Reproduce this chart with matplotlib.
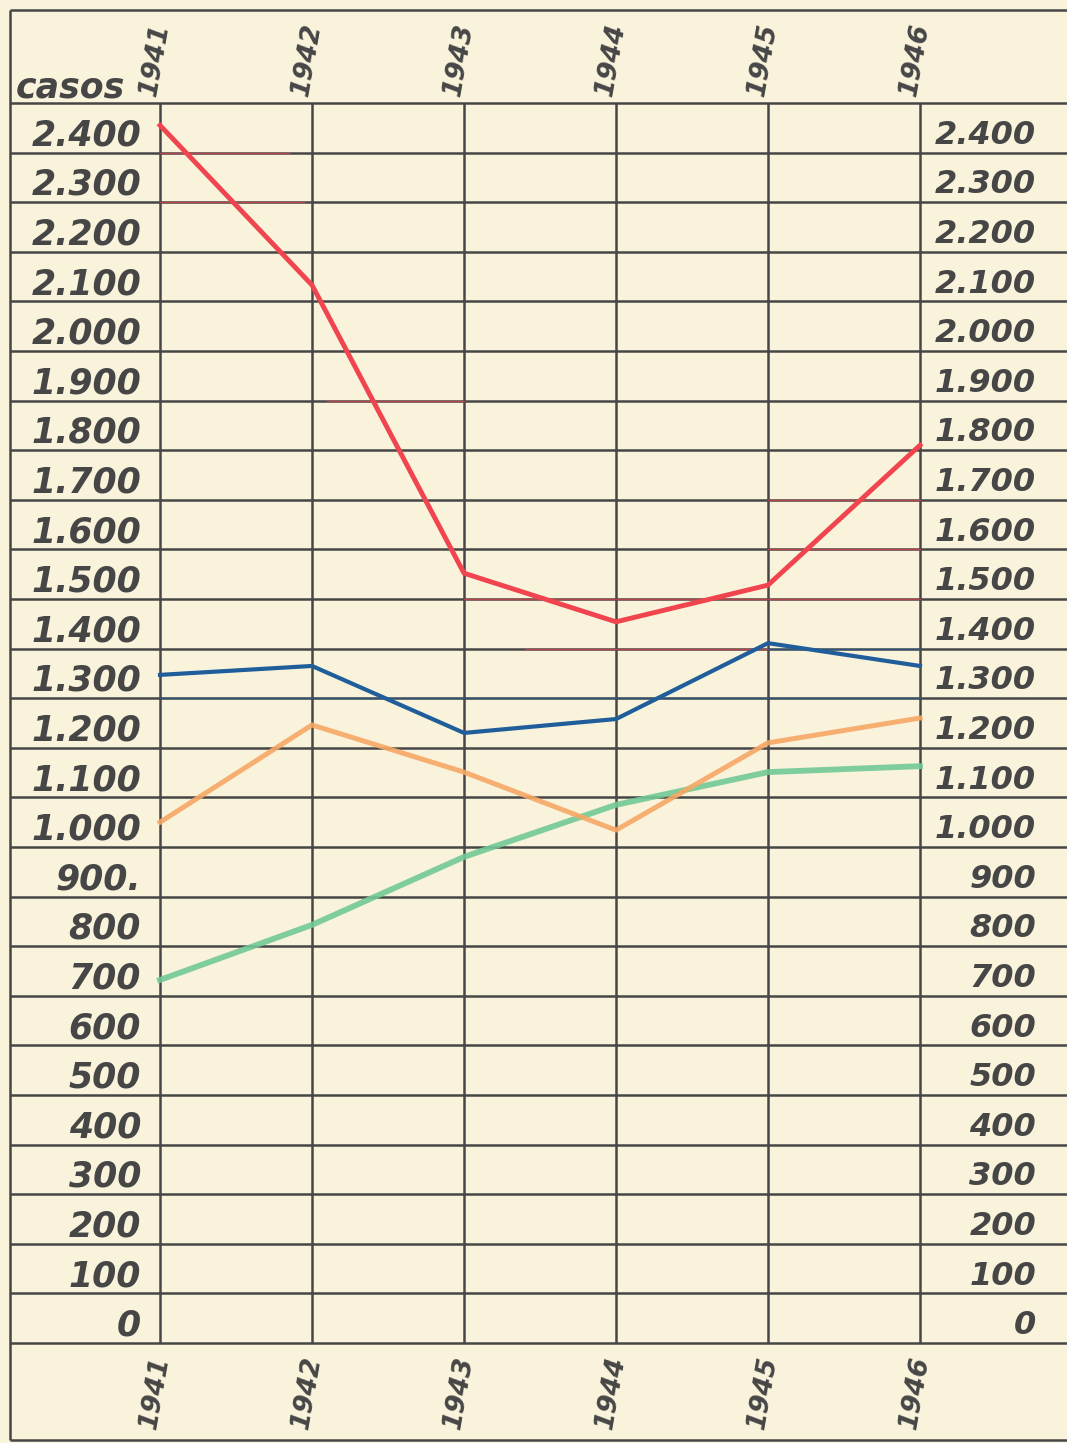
import matplotlib.pyplot as plt

# --- data ---
years = [1941, 1942, 1943, 1944, 1945, 1946]
red_vals = [2405, 2083, 1502, 1404, 1478, 1760]
blue_vals = [1297, 1315, 1180, 1208, 1361, 1315]
orange_vals = [1000, 1196, 1101, 984, 1160, 1210]
green_vals = [682, 793, 930, 1035, 1101, 1113]

tick_vals = list(range(0, 2500, 100))
left_labels = ["0", "100", "200", "300", "400", "500", "600", "700", "800", "900.",
               "1.000", "1.100", "1.200", "1.300", "1.400", "1.500", "1.600", "1.700",
               "1.800", "1.900", "2.000", "2.100", "2.200", "2.300", "2.400"]
right_labels = ["0", "100", "200", "300", "400", "500", "600", "700", "800", "900",
                "1.000", "1.100", "1.200", "1.300", "1.400", "1.500", "1.600", "1.700",
                "1.800", "1.900", "2.000", "2.100", "2.200", "2.300", "2.400"]

# coloured pencil traces left on some grid lines: (level, from year, to year, colour)
trace_levels = [2350, 2250, 1850, 1650, 1550, 1450, 1350, 1350, 1250]
trace_from = [1941.0, 1941.0, 1942.1, 1945.0, 1945.0, 1943.0, 1943.4, 1945.0, 1941.0]
trace_to = [1941.85, 1941.95, 1943.0, 1946.0, 1946.0, 1946.0, 1945.0, 1946.0, 1946.0]
trace_col = ["red", "red", "red", "red", "red", "red", "red", "blue", "blue"]

# --- style ---
bg = "#faf3dc"
ink = "#464646"
col = {"red": "#f0444e", "blue": "#1f5e9a", "orange": "#f6a865", "green": "#72c996"}
hand = dict(family="DejaVu Sans", fontstyle="italic", fontweight="bold", color=ink)

W, H = 1067, 1443
px_year = 152.0        # pixels between two year columns
x0_px = 160.0          # pixel position of 1941
px_val = 0.496         # pixels per case
y0_px = 1343 - 50 * px_val  # pixel row of value 0 (centre of the lowest band)

def px_to_year(px):
    return years[0] + (px - x0_px) / px_year

def px_to_val(py):
    return (y0_px - py) / px_val

fig = plt.figure(figsize=(W / 100, H / 100), dpi=100, facecolor=bg)
ax = fig.add_axes([0, 0, 1, 1])
ax.set_facecolor(bg)
ax.set_xlim(px_to_year(0), px_to_year(W))
ax.set_ylim(px_to_val(H), px_to_val(0))
ax.axis("off")

x_left = px_to_year(10)
x_right = px_to_year(W)
grid_kw = dict(color=ink, lw=1.8, solid_capstyle="butt", zorder=1)

# horizontal grid: band edges half way between labelled values
for v in [t - 50 for t in tick_vals] + [tick_vals[-1] + 50]:
    ax.plot([x_left, x_right], [v, v], **grid_kw)
# outer frame top / bottom and left edge
ax.plot([x_left, x_right], [px_to_val(10), px_to_val(10)], **grid_kw)
ax.plot([x_left, x_right], [px_to_val(1440), px_to_val(1440)], **grid_kw)
ax.plot([x_left, x_left], [px_to_val(1440), px_to_val(10)], **grid_kw)

# year columns
for yr in years:
    ax.plot([yr, yr], [tick_vals[0] - 50, tick_vals[-1] + 50], **grid_kw)

# pencil traces on grid lines
for lv, a, b, c in zip(trace_levels, trace_from, trace_to, trace_col):
    ax.plot([a, b], [lv, lv], color=col[c], lw=1.0, alpha=0.65, zorder=2)

# data lines
ax.plot(years, green_vals, color=col["green"], lw=4.2, alpha=0.9, zorder=3)
ax.plot(years, orange_vals, color=col["orange"], lw=3.6, alpha=0.9, zorder=4)
ax.plot(years, blue_vals, color=col["blue"], lw=3.0, zorder=5)
ax.plot(years, red_vals, color=col["red"], lw=3.5, zorder=6)

# value labels on both sides
for v, lt, rt in zip(tick_vals, left_labels, right_labels):
    ax.text(px_to_year(141), v - 15, lt, ha="right", va="center", fontsize=25, **hand)
    ax.text(px_to_year(1036), v - 15, rt, ha="right", va="center", fontsize=23, **hand)

# year labels top and bottom
for yr in years:
    ax.text(yr - 5 / px_year, px_to_val(60), str(yr), rotation=80, ha="center",
            va="center", fontsize=19, **hand)
    ax.text(yr - 5 / px_year, px_to_val(1393), str(yr), rotation=80, ha="center",
            va="center", fontsize=19, **hand)

ax.text(px_to_year(16), px_to_val(97), "casos", ha="left", va="baseline",
        fontsize=25, **hand)

fig.savefig("out.png", dpi=100, facecolor=bg)
